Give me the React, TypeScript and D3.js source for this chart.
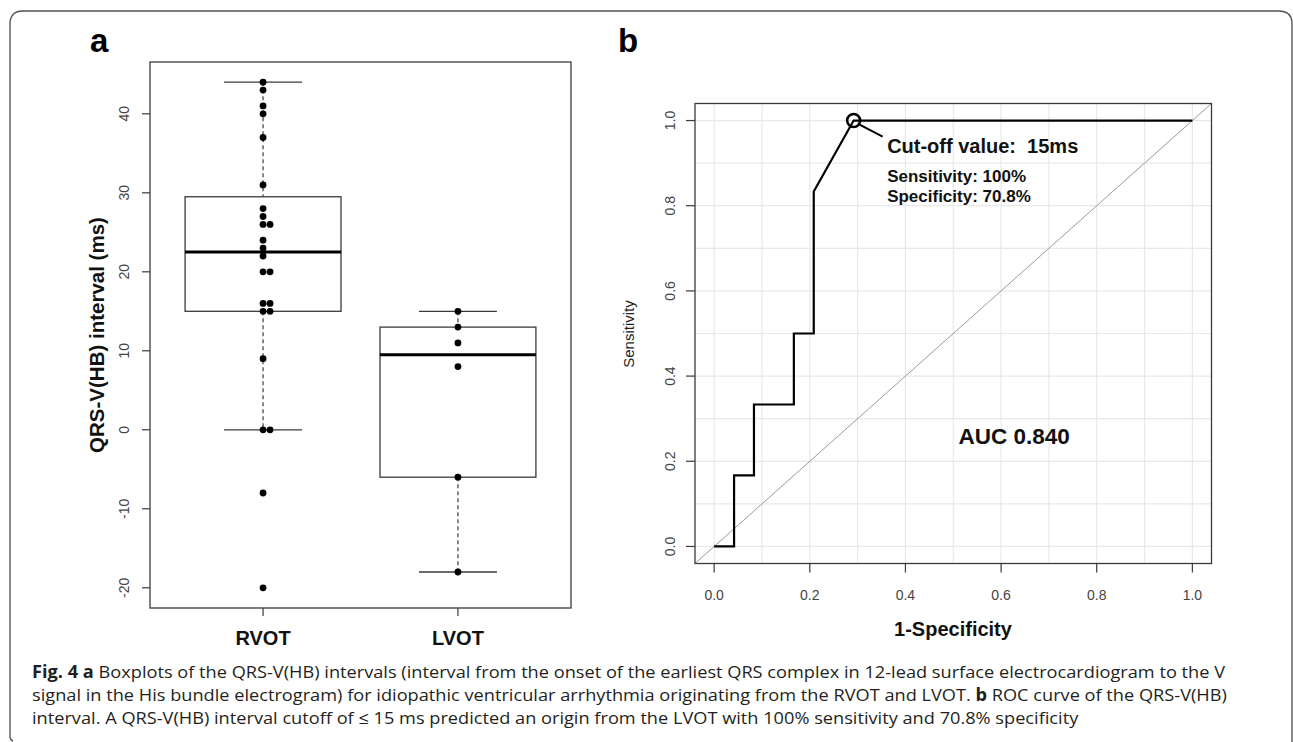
import React, { useLayoutEffect, useRef } from "react";
import * as d3 from "d3";

// ---------- data ----------
const groups = ["RVOT", "LVOT"];
const rvotValues = [44, 43, 41, 40, 37, 31, 28, 27, 26, 26, 24, 23, 22, 20, 20, 16, 16, 15, 15, 9, 0, 0, -8, -20];
const lvotValues = [15, 13, 11, 8, -6, -18];
const boxYTicks = [-20, -10, 0, 10, 20, 30, 40];

const rocFpr = [0, 0.0417, 0.0417, 0.0833, 0.0833, 0.1667, 0.1667, 0.2083, 0.2083, 0.2917, 1];
const rocTpr = [0, 0, 0.1667, 0.1667, 0.3333, 0.3333, 0.5, 0.5, 0.8333, 1, 1];
const cutoffPoint = { fpr: 0.2917, tpr: 1 };
const rocTicks = [0, 0.2, 0.4, 0.6, 0.8, 1.0];
const rocGrid = [0, 0.1, 0.2, 0.3, 0.4, 0.5, 0.6, 0.7, 0.8, 0.9, 1.0];
const aucLabel = "AUC 0.840";
const cutoffLabels = ["Cut-off value:  15ms", "Sensitivity: 100%", "Specificity: 70.8%"];

const FONT = "'Liberation Sans', Arial, Helvetica, sans-serif";
const AX = "#3a3a3a";
const TICKTXT = "#444";

function fivenum(vals: number[]) {
  const x = [...vals].sort((a, b) => a - b);
  const n = x.length;
  const n4 = Math.floor((n + 3) / 2) / 2;
  const d = [1, n4, (n + 1) / 2, n + 1 - n4, n];
  return d.map((di) => 0.5 * (x[Math.floor(di) - 1] + x[Math.ceil(di) - 1]));
}

function boxStats(vals: number[]) {
  const [mn, q1, med, q3, mx] = fivenum(vals);
  const iqr = q3 - q1;
  const lo = d3.min(vals.filter((v) => v >= q1 - 1.5 * iqr)) as number;
  const hi = d3.max(vals.filter((v) => v <= q3 + 1.5 * iqr)) as number;
  return { q1, med, q3, lo, hi, mn, mx };
}

function BoxPanel() {
  const x = d3.scaleLinear().domain([0.42, 2.58]).range([150, 571]);
  const y = d3.scaleLinear().domain([-22.56, 46.56]).range([608, 62]);
  const allGroups = [rvotValues, lvotValues];
  const stackStep = 0.036;
  return (
    <g>
      <text x={90} y={52} fontFamily={FONT} fontWeight="bold" fontSize={33} fill="#000">a</text>
      {allGroups.map((vals, gi) => {
        const s = boxStats(vals);
        const cx = x(gi + 1);
        const hw = x(0.8) - x(0.4);
        const cw = x(0.6) - x(0.4);
        const counts: Record<number, number> = {};
        return (
          <g key={gi}>
            <line x1={cx} x2={cx} y1={y(s.hi)} y2={y(s.q3)} stroke={AX} strokeWidth={1.2} strokeDasharray="4,3" />
            <line x1={cx} x2={cx} y1={y(s.q1)} y2={y(s.lo)} stroke={AX} strokeWidth={1.2} strokeDasharray="4,3" />
            <line x1={cx - cw} x2={cx + cw} y1={y(s.hi)} y2={y(s.hi)} stroke={AX} strokeWidth={1.3} />
            <line x1={cx - cw} x2={cx + cw} y1={y(s.lo)} y2={y(s.lo)} stroke={AX} strokeWidth={1.3} />
            <rect x={cx - hw} y={y(s.q3)} width={2 * hw} height={y(s.q1) - y(s.q3)} fill="none" stroke={AX} strokeWidth={1.3} />
            <line x1={cx - hw} x2={cx + hw} y1={y(s.med)} y2={y(s.med)} stroke="#000" strokeWidth={3} />
            {vals.map((v, i) => {
              const k = counts[v] || 0;
              counts[v] = k + 1;
              return <circle key={i} cx={x(gi + 1 + k * stackStep)} cy={y(v)} r={3.4} fill="#000" />;
            })}
          </g>
        );
      })}
      <rect x={150} y={62} width={421} height={546} fill="none" stroke={AX} strokeWidth={1.3} />
      {boxYTicks.map((t) => (
        <g key={t}>
          <line x1={142} x2={150} y1={y(t)} y2={y(t)} stroke={AX} strokeWidth={1.2} />
          <text transform={`translate(128.5,${y(t)}) rotate(-90)`} textAnchor="middle" fontFamily={FONT} fontSize={14} fill={TICKTXT}>{t}</text>
        </g>
      ))}
      {groups.map((g, i) => (
        <g key={g}>
          <line x1={x(i + 1)} x2={x(i + 1)} y1={608} y2={616} stroke={AX} strokeWidth={1.2} />
          <text x={x(i + 1)} y={645} textAnchor="middle" fontFamily={FONT} fontWeight="bold" fontSize={20} fill="#111">{g}</text>
        </g>
      ))}
      <text transform={`translate(104,335) rotate(-90)`} textAnchor="middle" fontFamily={FONT} fontWeight="bold" fontSize={20.5} fill="#111">QRS-V(HB) interval (ms)</text>
    </g>
  );
}

function RocPanel() {
  const x = d3.scaleLinear().domain([-0.04, 1.04]).range([695, 1211.5]);
  const y = d3.scaleLinear().domain([-0.04, 1.04]).range([563.5, 103.5]);
  const pts: [number, number][] = rocFpr.map((f, i) => [f, rocTpr[i]]);
  const line = d3.line<[number, number]>().x((d) => x(d[0])).y((d) => y(d[1]));
  const cx = x(cutoffPoint.fpr);
  const cy = y(cutoffPoint.tpr);
  return (
    <g>
      <text x={618} y={52} fontFamily={FONT} fontWeight="bold" fontSize={33} fill="#000">b</text>
      {rocGrid.map((g) => (
        <g key={g}>
          <line x1={x(g)} x2={x(g)} y1={103.5} y2={563.5} stroke="#e8e8e8" strokeWidth={1.2} />
          <line x1={695} x2={1211.5} y1={y(g)} y2={y(g)} stroke="#e8e8e8" strokeWidth={1.2} />
        </g>
      ))}
      <line x1={x(-0.04)} y1={y(-0.04)} x2={x(1.04)} y2={y(1.04)} stroke="#9a9a9a" strokeWidth={1} />
      <path d={line(pts) || ""} fill="none" stroke="#000" strokeWidth={2.2} strokeLinejoin="miter" />
      <circle cx={cx} cy={cy} r={6.5} fill="none" stroke="#000" strokeWidth={2.6} />
      <line x1={cx + 6} y1={cy + 4} x2={cx + 29} y2={cy + 16} stroke="#000" strokeWidth={2} />
      <text x={cx + 33.5} y={cy + 32.5} fontFamily={FONT} fontWeight="bold" fontSize={20} fill="#111" style={{ whiteSpace: "pre" }}>{cutoffLabels[0]}</text>
      <text x={cx + 33.5} y={cy + 61.5} fontFamily={FONT} fontWeight="bold" fontSize={17} fill="#111">{cutoffLabels[1]}</text>
      <text x={cx + 33.5} y={cy + 81} fontFamily={FONT} fontWeight="bold" fontSize={17} fill="#111">{cutoffLabels[2]}</text>
      <text x={x(0.511)} y={y(0.24)} fontFamily={FONT} fontWeight="bold" fontSize={22.5} fill="#111">{aucLabel}</text>
      <rect x={695} y={103.5} width={516.5} height={460} fill="none" stroke={AX} strokeWidth={1.3} />
      {rocTicks.map((t) => (
        <g key={t}>
          <line x1={686} x2={695} y1={y(t)} y2={y(t)} stroke={AX} strokeWidth={1.2} />
          <text transform={`translate(675,${y(t)}) rotate(-90)`} textAnchor="middle" fontFamily={FONT} fontSize={14} fill={TICKTXT}>{t.toFixed(1)}</text>
          <line x1={x(t)} x2={x(t)} y1={563.5} y2={572.5} stroke={AX} strokeWidth={1.2} />
          <text x={x(t)} y={600} textAnchor="middle" fontFamily={FONT} fontSize={14} fill={TICKTXT}>{t.toFixed(1)}</text>
        </g>
      ))}
      <text transform={`translate(634,334) rotate(-90)`} textAnchor="middle" fontFamily={FONT} fontSize={15} fill="#222">Sensitivity</text>
      <text x={953} y={636} textAnchor="middle" fontFamily={FONT} fontWeight="bold" fontSize={20} fill="#111">1-Specificity</text>
    </g>
  );
}

function Caption() {
  const ref = useRef<SVGGElement>(null);
  useLayoutEffect(() => {
    const g = ref.current;
    if (!g) return;
    const lines = Array.from(g.querySelectorAll("text")) as SVGTextElement[];
    lines.forEach((l) => l.removeAttribute("textLength"));
    const lens = lines.map((l) => l.getComputedTextLength());
    const k = 1193 / lens[0];
    lines.forEach((l, i) => {
      l.setAttribute("textLength", String(lens[i] * k));
      l.setAttribute("lengthAdjust", "spacingAndGlyphs");
    });
  }, []);
  const cf = "'Open Sans', 'Noto Sans', sans-serif";
  const col = "#231f20";
  return (
    <g ref={ref} fontFamily={cf} fontSize={17} fill={col} style={{ whiteSpace: "pre" }}>
      <text x={32} y={678}>
        <tspan fontWeight="bold">Fig. 4</tspan>
        <tspan>{"  "}</tspan>
        <tspan fontWeight="bold">a</tspan>
        <tspan>{" Boxplots of the QRS-V(HB) intervals (interval from the onset of the earliest QRS complex in 12-lead surface electrocardiogram to the V"}</tspan>
      </text>
      <text x={32} y={701}>
        <tspan>{"signal in the His bundle electrogram) for idiopathic ventricular arrhythmia originating from the RVOT and LVOT. "}</tspan>
        <tspan fontWeight="bold">b</tspan>
        <tspan>{" ROC curve of the QRS-V(HB)"}</tspan>
      </text>
      <text x={32} y={724}>
        {"interval. A QRS-V(HB) interval cutoff of ≤ 15 ms predicted an origin from the LVOT with 100% sensitivity and 70.8% specificity"}
      </text>
    </g>
  );
}

export default function App() {
  return (
    <svg width={1293} height={742} style={{ position: "absolute", left: 0, top: 0, background: "#fff" }}>
      <rect x={0} y={0} width={1293} height={742} fill="#fff" />
      <path
        d="M 10 736 Q 10 740 13 741 M 10 736 L 10 24 Q 10 11 23 11 L 1279 11 Q 1291 11 1292 22 L 1292 742"
        fill="none"
        stroke="#555"
        strokeWidth={1.4}
      />
      <BoxPanel />
      <RocPanel />
      <Caption />
    </svg>
  );
}
